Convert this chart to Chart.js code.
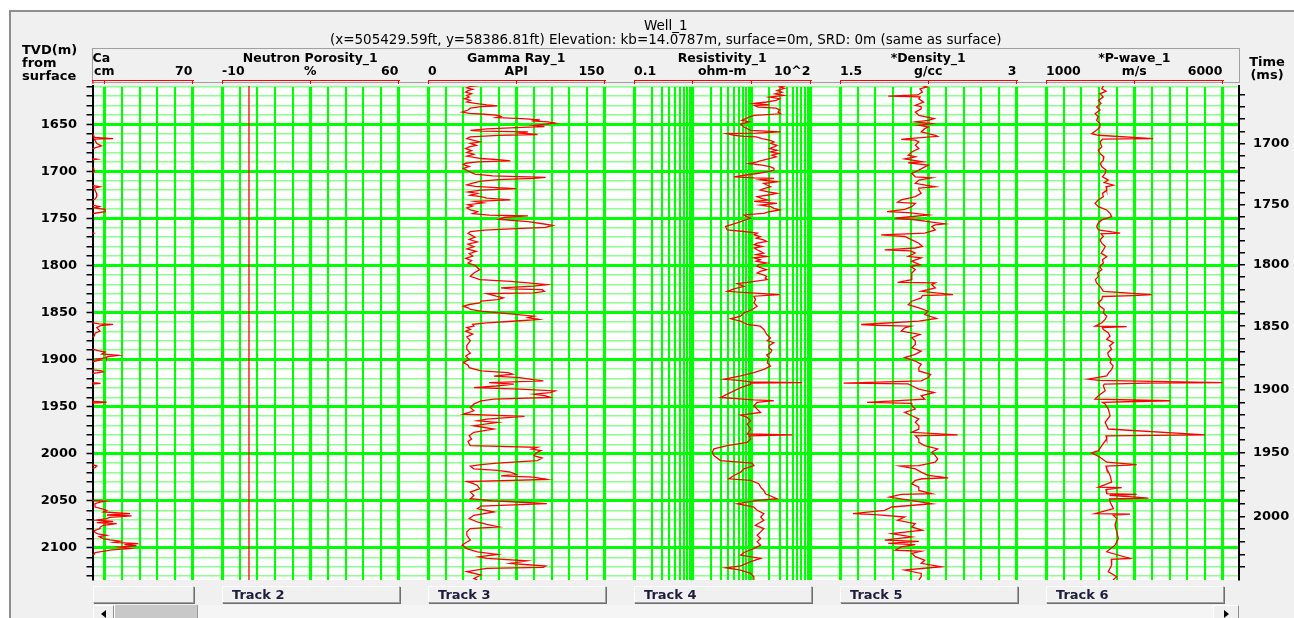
<!DOCTYPE html>
<html>
<head>
<meta charset="utf-8">
<title>Well_1</title>
<script src="https://cdn.jsdelivr.net/npm/chart.js@4.4.1/dist/chart.umd.min.js"></script>
<style>
  html, body { margin: 0; padding: 0; width: 1294px; height: 618px; overflow: hidden; background: #ffffff; }
  #frame { position: absolute; left: 9px; top: 10px; width: 1285px; height: 608px; box-sizing: border-box;
           background: #f0f0f0; border-left: 2px solid #8e8e8e; border-top: 2px solid #8e8e8e; }
  #plot { position: absolute; left: 0; top: 0; }
  .note { position: absolute; font: bold 13px 'DejaVu Sans', sans-serif; line-height: 12.8px; color: #000; white-space: pre; }
  .trackbtn { position: absolute; top: 586px; height: 17px; box-sizing: border-box; background: #f0f0f0;
              border-top: 1px solid #ffffff; border-left: 1px solid #ffffff; border-right: 1px solid #a0a0a0; border-bottom: 1px solid #a0a0a0;
              box-shadow: 1px 1px 0 #6e6e6e; font: bold 13px 'DejaVu Sans', sans-serif; line-height: 15px; color: #1e1e3c;
              padding-left: 9px; white-space: nowrap; overflow: hidden; }
  .sbar { position: absolute; top: 605px; height: 16px; box-sizing: border-box; }
  .sarrow { background: #f0f0f0; border-top: 1px solid #fff; border-left: 1px solid #fff; border-right: 1px solid #8e8e8e; border-bottom: 1px solid #8e8e8e; }
  .sarrow i { position: absolute; top: 4px; width: 0; height: 0; border-top: 4px solid transparent; border-bottom: 4px solid transparent; }
  .thumb { background: #c8c8c8; border-left: 1px solid #ffffff; border-right: 1px solid #9a9a9a; }
  .strack { background: #f5f5f5; }
</style>
</head>
<body>
<div id="frame"></div>
<canvas id="plot" width="1294" height="618"></canvas>
<div class="note" style="left:22px; top:44px;">TVD(m)
from
surface</div>
<div class="note" style="left:1244px; top:56px; width:46px; text-align:center;">Time
(ms)</div>

<script>
// ---------------- log curves: [depth (m TVD), value] ----------------
const caliper = [
  [1609.0,29.0],[1640.0,28.5],[1659.0,29.2],[1661.0,30.6],[1664.0,31.0],[1665.4,38.5],[1666.0,31.0],[1667.1,31.3],
  [1670.6,32.0],[1673.1,33.9],[1675.2,31.3],[1677.0,29.5],[1686.5,29.8],[1687.2,32.0],[1688.0,29.8],[1696.0,29.8],
  [1697.1,30.8],[1700.0,31.0],[1701.7,30.6],[1703.0,29.5],[1715.0,29.8],[1716.5,33.3],[1718.0,30.8],[1720.0,31.3],
  [1723.5,31.9],[1727.0,32.0],[1729.5,31.3],[1731.0,29.8],[1736.0,30.2],[1737.6,33.0],[1739.0,31.0],[1740.4,35.3],
  [1742.9,35.3],[1744.6,31.3],[1746.0,29.5],[1765.0,29.8],[1765.8,30.7],[1766.5,29.5],[1858.0,29.0],[1860.9,30.6],
  [1862.0,33.0],[1862.7,38.5],[1864.0,33.5],[1866.2,32.0],[1869.7,33.3],[1872.0,31.3],[1875.0,31.0],[1877.0,29.5],
  [1888.0,29.8],[1889.1,30.6],[1890.5,32.5],[1892.0,35.3],[1894.0,34.0],[1895.5,40.5],[1897.0,36.0],[1898.0,35.9],
  [1899.5,32.0],[1900.4,33.3],[1902.0,30.6],[1903.5,29.5],[1910.5,29.8],[1911.0,30.6],[1912.0,34.0],[1913.1,34.6],
  [1914.5,30.6],[1915.6,29.5],[1923.5,29.8],[1924.4,30.6],[1925.3,33.5],[1926.1,29.5],[1944.0,29.8],[1944.5,30.6],
  [1945.3,35.9],[1946.2,29.5],[2011.0,29.8],[2011.8,30.6],[2013.0,32.0],[2014.6,31.3],[2016.0,29.5],[2048.5,29.8],
  [2049.5,30.6],[2050.3,35.3],[2051.2,33.3],[2053.0,31.3],[2056.5,31.3],[2058.0,33.5],[2060.0,35.9],[2061.8,34.6],
  [2063.6,45.2],[2065.0,36.0],[2066.0,45.8],[2067.5,37.2],[2068.8,35.9],[2070.5,32.0],[2071.7,38.5],[2073.0,32.0],
  [2074.1,39.9],[2075.9,34.6],[2078.0,33.3],[2079.4,33.3],[2081.5,31.0],[2083.6,31.3],[2085.0,32.5],[2086.5,35.9],
  [2088.0,33.0],[2090.0,34.6],[2091.5,37.2],[2092.8,41.2],[2094.0,39.0],[2095.3,48.5],[2096.5,43.0],[2097.7,47.8],
  [2099.0,41.0],[2100.6,45.2],[2102.0,38.0],[2103.4,35.0],[2104.8,31.3],[2106.5,31.0],[2107.6,29.5],[2134.0,29.0]
];

const neutron = [[1609.0,0.7],[2135.0,0.7]];

const gammaRay = [
  [1609.0,43],[1610.0,36],[1611.5,33],[1613.0,38],[1614.5,34],[1616.0,32],[1617.8,37],[1619.5,33],[1621.3,35],[1623.0,31],
  [1624.8,36],[1626.5,33],[1628.0,40],[1629.5,50],[1630.5,59],[1631.5,45],[1633.0,36],[1635.0,34],[1637.2,29],[1638.5,35],
  [1639.5,48],[1640.7,60],[1641.8,62],[1643.0,58],[1644.2,80],[1645.5,95],[1646.5,88],[1647.5,102],[1648.8,108],[1649.9,100],
  [1651.3,90],[1652.5,99],[1653.5,80],[1655.0,50],[1656.6,36],[1657.5,45],[1658.3,85],[1659.5,78],[1661.0,93],[1662.0,60],
  [1663.6,36],[1665.4,33],[1667.0,38],[1668.9,44],[1670.5,36],[1672.5,41],[1674.2,35],[1676.0,32],[1678.0,37],[1680.0,33],
  [1682.0,39],[1684.0,33],[1686.5,45],[1688.0,62],[1689.0,70],[1690.0,42],[1691.5,32],[1693.0,30],[1695.0,35],[1697.0,30],
  [1699.0,33],[1701.0,36],[1703.0,40],[1705.0,55],[1706.5,100],[1707.5,90],[1709.0,60],[1710.5,45],[1712.5,38],[1714.5,33],
  [1716.0,40],[1717.5,58],[1718.5,75],[1720.0,45],[1722.0,34],[1723.5,42],[1725.5,36],[1727.0,45],[1728.5,50],[1730.5,70],
  [1732.0,40],[1733.5,47],[1735.5,34],[1737.0,38],[1739.0,33],[1741.0,36],[1743.0,42],[1745.0,38],[1746.5,52],[1747.5,85],
  [1749.0,65],[1751.0,60],[1753.5,85],[1755.5,96],[1757.5,106],[1759.5,100],[1761.0,75],[1762.5,48],[1764.0,36],[1766.0,34],
  [1770.0,40],[1772.5,35],[1775.0,42],[1777.5,34],[1780.0,39],[1782.5,33],[1785.0,41],[1787.5,35],[1790.0,38],[1792.5,32],
  [1795.0,37],[1797.5,34],[1800.0,40],[1804.5,44],[1808.1,39],[1811.6,36],[1815.1,44],[1816.9,70],[1818.5,85],[1820.4,101],
  [1822.0,90],[1823.9,62],[1825.0,70],[1825.7,97],[1827.5,99],[1829.2,90],[1830.0,50],[1832.7,58],[1834.5,64],[1836.3,59],
  [1838.0,45],[1839.8,44],[1841.5,35],[1843.3,30],[1845.0,34],[1846.8,36],[1848.5,45],[1850.4,60],[1851.5,70],[1853.9,90],
  [1855.5,85],[1857.4,94],[1859.0,75],[1860.9,50],[1862.5,38],[1864.5,39],[1866.0,33],[1868.0,36],[1870.0,32],[1873.0,38],
  [1876.0,33],[1880.0,36],[1885.0,33],[1889.1,33],[1893.0,36],[1896.2,32],[1900.0,35],[1903.2,30],[1906.0,34],[1908.5,35],
  [1912.0,45],[1913.8,68],[1915.5,72],[1917.5,56],[1919.1,78],[1920.9,88],[1922.6,98],[1924.4,52],[1926.1,73],[1928.0,58],
  [1929.7,39],[1931.4,78],[1933.2,108],[1935.0,104],[1936.7,90],[1938.5,100],[1940.2,104],[1942.0,56],[1943.8,45],[1947.3,39],
  [1950.8,36],[1954.3,39],[1957.9,30],[1960.3,82],[1963.1,50],[1965.0,42],[1966.7,59],[1970.2,39],[1973.7,56],[1977.2,39],
  [1980.8,35],[1984.3,37],[1987.0,34],[1989.6,35],[1991.3,36],[1993.1,93],[1995.0,88],[1996.6,96],[1999.0,92],[2001.9,90],
  [2004.5,97],[2007.2,93],[2010.0,59],[2011.5,45],[2013.2,36],[2016.0,39],[2017.5,59],[2019.5,70],[2022.0,75],[2023.5,62],
  [2024.8,90],[2027.3,101],[2029.4,33],[2031.5,38],[2033.6,42],[2037.1,44],[2040.7,36],[2044.2,39],[2047.7,36],[2050.0,55],
  [2051.2,76],[2053.0,101],[2055.5,45],[2058.3,42],[2061.8,56],[2065.3,39],[2068.8,35],[2072.4,42],[2075.0,50],[2077.7,60],
  [2079.4,36],[2082.9,33],[2086.5,33],[2091.7,36],[2094.5,32],[2097.0,29],[2100.6,33],[2104.1,42],[2106.9,59],[2109.4,43],
  [2111.1,50],[2113.6,84],[2116.4,70],[2119.2,100],[2120.5,98],[2121.7,50],[2125.2,33],[2128.7,45],[2132.3,39],[2134.0,42]
];

const resistivity = [
  [1609.0,38],[1610.5,30],[1612.0,36],[1614.3,27],[1616.0,33],[1617.8,25],[1619.5,35],[1621.3,20],[1623.0,30],[1624.8,26],
  [1626.5,18],[1628.0,11],[1629.5,20],[1630.1,11],[1631.9,13],[1633.0,26],[1635.0,30],[1637.2,28],[1639.0,31],[1640.7,11],
  [1642.5,9],[1644.2,7.9],[1646.0,6.8],[1647.5,9],[1649.9,6.5],[1653.0,7.4],[1656.6,9.6],[1658.3,31],[1659.5,12],[1660.1,3.8],
  [1661.8,5.0],[1663.0,7.5],[1663.6,12],[1665.4,15],[1667.0,20],[1668.9,24],[1670.5,21],[1672.5,27],[1674.2,24],[1676.0,20],
  [1677.7,27],[1679.5,21],[1681.2,29],[1683.0,22],[1684.7,26],[1686.5,20],[1689.0,14],[1690.0,12.4],[1691.8,9.0],[1693.5,15],
  [1695.3,21],[1697.0,24],[1698.8,24],[1700.5,19],[1702.4,12.4],[1704.0,8],[1705.9,5.0],[1707.0,11],[1707.6,24],[1709.0,14],
  [1711.2,27],[1713.0,16],[1716.5,21],[1718.5,16],[1720.0,14],[1722.0,19],[1723.5,27],[1725.5,18],[1727.0,12.4],[1729.0,15],
  [1730.6,19],[1732.0,11],[1734.1,27],[1736.0,14],[1737.6,21],[1739.5,24],[1741.1,30],[1743.0,20],[1744.7,16],[1746.4,7.4],
  [1748.0,8],[1749.9,9.6],[1751.5,8],[1753.5,6.5],[1755.0,5.5],[1757.0,4.4],[1758.7,3.6],[1760.5,3.7],[1762.3,3.85],[1764.0,7.4],
  [1765.8,12.4],[1767.5,11],[1769.3,14],[1771.0,12],[1772.8,16],[1774.5,18],[1776.4,12.4],[1778.0,11],[1779.9,15],[1781.5,11],
  [1783.4,12.4],[1785.0,14],[1787.0,16],[1788.5,12],[1790.5,18],[1792.0,11],[1794.0,14],[1795.5,12],[1797.5,18],[1799.0,13],
  [1801.0,12.4],[1802.8,15],[1804.5,18],[1806.3,14],[1808.1,12.4],[1809.9,16],[1811.6,18],[1813.4,17],[1815.1,18.4],[1817.9,8.4],
  [1819.3,5.7],[1822.2,7.4],[1825.0,5.0],[1827.5,3.85],[1829.2,9.6],[1830.9,30],[1832.7,10.9],[1836.3,11.6],[1839.8,10.9],[1843.3,12.4],
  [1846.8,10.3],[1850.4,7.4],[1853.9,6.5],[1856.7,4.4],[1859.2,6.5],[1862.7,8.4],[1864.5,14],[1868.0,16.1],[1873.3,18],[1877.1,20.9],
  [1880.0,18.4],[1882.1,23.8],[1885.0,20],[1887.4,19.6],[1890.0,22],[1892.7,20.9],[1895.0,18],[1898.0,19.6],[1903.2,18.4],[1906.8,20.9],
  [1910.3,16.1],[1913.8,10.9],[1917.3,6.5],[1920.9,3.4],[1922.0,6],[1923.7,9.6],[1924.4,72],[1925.0,9.6],[1926.1,9.6],[1929.7,6.5],
  [1933.2,5.0],[1936.7,3.85],[1940.2,2.96],[1942.7,10.9],[1943.5,23.8],[1945.5,12.4],[1949.0,10.9],[1952.6,12.4],[1956.1,14.2],[1958.9,6.5],
  [1961.4,8.4],[1964.9,9.6],[1968.4,8.4],[1973.7,9.6],[1979.0,8.4],[1980.0,48.8],[1981.0,9],[1984.3,9.6],[1987.8,8.4],[1991.3,3.85],
  [1994.8,2.28],[1998.4,2.14],[2001.9,2.28],[2007.2,2.96],[2010.0,10.2],[2012.5,10.9],[2016.0,7.4],[2019.5,6.5],[2023.0,5.0],[2026.6,4.1],
  [2028.3,9.6],[2031.8,13.2],[2035.4,14.2],[2038.9,16.1],[2042.4,17.2],[2047.7,27.1],[2049.5,12.4],[2053.0,5.7],[2056.5,10.9],[2060.0,12.4],
  [2063.6,16.1],[2067.1,14.2],[2070.6,16.1],[2075.9,11.5],[2079.4,16.1],[2082.9,14.2],[2086.5,12.4],[2090.0,14.2],[2093.5,12.4],[2097.0,14.2],
  [2100.6,10.9],[2104.8,7.4],[2107.6,6.5],[2111.1,14.2],[2114.6,9.6],[2118.9,6.5],[2121.0,3.6],[2123.5,6.5],[2127.0,9.6],[2130.5,10.9],
  [2134.0,10.9]
];

const density = [
  [1609.0,2.20],[1610.5,2.24],[1612.5,2.18],[1616.0,2.20],[1619.0,2.16],[1620.2,1.91],[1621.0,2.18],[1623.1,2.17],[1626.6,2.21],[1630.1,2.14],
  [1631.5,2.19],[1633.7,2.19],[1637.2,2.14],[1640.7,2.17],[1644.2,2.30],[1646.0,2.25],[1647.7,2.14],[1649.5,2.28],[1651.3,2.17],[1653.0,2.25],
  [1654.8,2.22],[1658.3,2.19],[1661.8,2.31],[1663.0,2.33],[1665.4,2.08],[1666.1,2.02],[1667.0,2.14],[1668.9,2.17],[1672.4,2.14],[1675.9,2.17],
  [1679.5,2.11],[1683.0,2.08],[1684.7,2.14],[1687.0,2.05],[1690.0,2.20],[1691.0,2.08],[1693.5,2.25],[1698.8,2.17],[1702.4,2.11],[1705.9,2.14],
  [1707.0,2.28],[1709.4,2.17],[1712.9,2.14],[1716.5,2.31],[1718.0,2.17],[1720.0,2.17],[1723.5,2.19],[1727.0,2.14],[1730.5,2.02],[1733.0,1.99],
  [1734.1,2.14],[1737.6,2.11],[1740.5,2.05],[1742.9,1.90],[1744.0,2.08],[1746.4,2.25],[1749.9,1.97],[1751.5,2.14],[1753.5,2.25],[1755.9,2.39],
  [1757.0,2.31],[1758.7,2.28],[1762.3,2.31],[1765.8,2.22],[1767.5,1.85],[1769.3,2.05],[1772.8,2.11],[1776.4,2.17],[1779.9,2.20],[1781.5,2.14],
  [1783.4,1.88],[1784.5,2.10],[1786.9,2.14],[1790.5,2.08],[1792.0,2.19],[1795.7,2.11],[1799.3,2.18],[1801.0,2.10],[1804.5,2.14],[1808.1,2.11],
  [1811.6,2.11],[1815.1,2.11],[1817.9,1.99],[1818.5,2.31],[1820.4,2.28],[1823.9,2.31],[1827.5,2.19],[1831.0,2.46],[1832.0,2.20],[1834.5,2.19],
  [1838.0,2.11],[1841.6,2.08],[1845.1,2.17],[1848.6,2.25],[1852.1,2.22],[1856.3,2.32],[1859.2,2.17],[1862.7,1.68],[1863.5,1.80],[1864.5,2.10],
  [1866.2,2.05],[1869.7,2.02],[1873.3,2.18],[1876.8,2.11],[1880.3,2.14],[1883.8,2.14],[1887.4,2.11],[1890.9,2.19],[1894.4,2.14],[1897.9,2.05],
  [1901.5,2.14],[1905.0,2.19],[1908.5,2.17],[1912.0,2.17],[1915.6,2.27],[1919.1,2.25],[1922.6,2.19],[1925.0,1.53],[1925.8,2.08],[1927.8,2.11],
  [1931.4,2.17],[1934.9,2.30],[1938.4,2.19],[1941.9,2.22],[1945.5,1.73],[1946.5,2.11],[1949.0,2.11],[1952.5,2.14],[1956.1,2.05],[1959.6,2.11],
  [1963.1,2.17],[1966.6,2.14],[1970.2,2.17],[1973.7,2.17],[1977.2,2.11],[1980.0,2.50],[1981.0,2.14],[1984.3,2.17],[1987.8,2.17],[1991.3,2.22],
  [1994.8,2.33],[1998.4,2.28],[2001.9,2.31],[2005.4,2.33],[2008.9,2.31],[2012.5,2.17],[2013.0,2.01],[2016.0,2.14],[2019.5,2.19],[2023.0,2.25],
  [2025.5,2.42],[2026.5,2.20],[2028.3,2.14],[2031.8,2.11],[2035.4,2.17],[2038.9,2.17],[2042.4,2.28],[2043.0,2.02],[2045.9,1.92],[2049.5,2.10],
  [2053.0,2.28],[2056.5,1.94],[2060.0,1.88],[2063.5,1.61],[2064.5,1.80],[2067.1,2.05],[2070.6,1.99],[2074.1,2.14],[2077.6,2.11],[2081.2,2.20],
  [2084.7,1.94],[2088.2,2.11],[2091.7,1.88],[2093.0,2.17],[2095.2,1.91],[2096.5,2.14],[2098.8,2.02],[2102.3,1.97],[2103.5,2.19],[2105.8,2.11],
  [2109.3,2.14],[2112.9,2.22],[2116.4,2.19],[2119.9,2.36],[2123.4,2.05],[2127.0,2.19],[2130.5,2.19],[2134.0,2.17]
];

const pWave = [
  [1609.0,2630],[1612.5,2580],[1615.0,2700],[1617.8,2530],[1621.0,2620],[1624.8,2485],[1628.0,2560],[1631.9,2435],[1635.0,2530],[1638.9,2390],
  [1642.0,2480],[1646.0,2435],[1649.0,2520],[1653.0,2530],[1656.0,2450],[1660.1,2295],[1661.8,2485],[1665.4,4040],[1666.0,2600],[1668.9,2530],
  [1674.2,2580],[1677.7,2480],[1681.2,2530],[1684.7,2640],[1688.3,2625],[1691.8,2540],[1695.3,2580],[1698.8,2700],[1702.4,2675],[1705.9,2600],
  [1709.4,2765],[1712.0,2650],[1714.7,2910],[1716.5,2700],[1720.0,2720],[1723.5,2600],[1727.0,2625],[1730.5,2480],[1734.1,2390],[1737.6,2485],
  [1741.1,2720],[1744.7,2815],[1748.2,2860],[1751.7,2580],[1755.2,2480],[1758.7,2435],[1762.3,2485],[1765.8,3100],[1766.5,2560],[1769.3,2625],
  [1772.8,2530],[1776.4,2580],[1779.9,2680],[1783.4,2625],[1787.0,2560],[1790.5,2720],[1794.0,2600],[1797.5,2625],[1801.0,2520],[1804.5,2580],
  [1808.1,2460],[1811.6,2485],[1815.1,2400],[1818.6,2435],[1822.2,2530],[1827.5,2625],[1831.0,4000],[1832.0,3475],[1833.0,2600],[1836.3,2580],
  [1839.8,2470],[1843.3,2530],[1846.8,2650],[1850.4,2625],[1853.9,2720],[1857.4,2675],[1860.9,2580],[1864.5,2390],[1865.0,3285],[1866.0,2600],
  [1868.0,2625],[1871.5,2760],[1875.0,2815],[1878.5,2720],[1882.0,2910],[1885.5,2800],[1889.1,2860],[1892.6,2750],[1896.2,2765],[1899.7,2850],
  [1903.2,2815],[1906.7,2900],[1910.3,2860],[1913.8,2780],[1917.3,2720],[1920.8,2200],[1922.0,2500],[1924.4,6030],[1925.0,3900],[1926.0,2650],
  [1927.8,2625],[1933.0,2675],[1938.4,2485],[1941.9,2390],[1943.7,4515],[1944.5,3570],[1945.5,2600],[1947.2,2675],[1952.5,2765],[1959.6,2815],
  [1966.6,2675],[1973.7,2765],[1980.0,5510],[1981.0,2700],[1984.3,2720],[1991.3,2580],[1996.6,2485],[1999.0,2295],[2003.6,2530],[2008.9,2720],
  [2011.4,3570],[2012.0,3335],[2013.0,2700],[2016.0,2720],[2023.0,2815],[2030.1,2860],[2035.4,2485],[2036.0,3145],[2038.0,2700],[2042.4,2720],
  [2043.0,3570],[2044.0,2800],[2047.0,3900],[2048.0,2800],[2051.2,2815],[2058.3,2910],[2063.5,2390],[2064.0,3380],[2065.0,2900],[2068.8,3005],
  [2075.9,2955],[2082.9,3005],[2090.0,3050],[2097.0,2955],[2104.1,2720],[2111.1,3380],[2112.0,2850],[2118.2,2860],[2125.2,2765],[2130.5,3005],
  [2134.0,2900]
];

// ---------------- time-depth pairs for the right-hand axis ----------------
const timeMarks = [1700, 1750, 1800, 1850, 1900, 1950, 2000];          // ms
const timeMarkDepths = [1670.6, 1735.8, 1799.2, 1864.5, 1932.1, 1999.0, 2066.4]; // m

// depth window shown
const depthTop = 1609.5;
const depthBase = 2134;

// ---------------- styling ----------------
const GREEN = '#00ff00';
const RED = '#ff0000';
const CLEAR = 'rgba(0,0,0,0)';
const hdrFont = { family: 'DejaVu Sans', size: 12.5, weight: 'bold', lineHeight: 1.2 };
const axisFont = { family: 'DejaVu Sans', size: 13, weight: 'bold', lineHeight: 1.2 };
const titleFont = { family: 'DejaVu Sans', size: 13.5, weight: 'normal', lineHeight: 1 };

function steps(from, to, n) {
  const out = [];
  for (let i = 0; i <= n; i++) out.push(+(from + (to - from) * i / n).toFixed(6));
  return out;
}
function logGrid(lo, hi) {
  const out = [];
  for (let dec = lo; dec < hi - 1e-9; dec *= 10) {
    for (let k = 1; k <= 9; k++) out.push(+(dec * k).toPrecision(6));
  }
  out.push(hi);
  return out;
}

// track layout: the first track is scrolled, so only its right part is visible
const tracks = [
  { id: 'ca', title: 'Ca', titleAlign: 'start', type: 'linear', min: 30.3, max: 70, width: 100,
    grid: [35, 42, 49, 56, 63, 70], heavy: [35, 70],
    marks: [[30.3, '', true], [35, 'cm', true], [70, '70', true]], data: caliper },
  { id: 'nphi', title: 'Neutron Porosity_1', type: 'linear', min: -10, max: 60, width: 176.5,
    grid: steps(-10, 60, 10), heavy: [-10, 25, 60],
    marks: [[-10, '-10', true], [25, '%', true], [60, '60', true]], data: neutron },
  { id: 'gr', title: 'Gamma Ray_1', type: 'linear', min: 0, max: 150, width: 176.5,
    grid: steps(0, 150, 10), heavy: [0, 75, 150],
    marks: [[0, '0', true], [75, 'API', true], [150, '150', true]], data: gammaRay },
  { id: 'res', title: 'Resistivity_1', type: 'logarithmic', min: 0.1, max: 100, width: 176.5,
    grid: logGrid(0.1, 100), heavy: [0.1, 1, 10, 100],
    marks: [[0.1, '0.1', true], [1, '', true], [Math.sqrt(10), 'ohm-m', false], [10, '', true], [100, '10^2', true]], data: resistivity },
  { id: 'rhob', title: '*Density_1', type: 'linear', min: 1.5, max: 3, width: 176.5,
    grid: steps(1.5, 3, 10), heavy: [1.5, 2.25, 3],
    marks: [[1.5, '1.5', true], [2.25, 'g/cc', true], [3, '3', true]], data: density },
  { id: 'vp', title: '*P-wave_1', type: 'linear', min: 1000, max: 6000, width: 176.5,
    grid: steps(1000, 6000, 10), heavy: [1000, 3500, 6000],
    marks: [[1000, '1000', true], [3500, 'm/s', true], [6000, '6000', true]], data: pWave }
];
const gapWidth = 29.5;
const endGapWidth = 16.5;
const headerHeight = 30;

function trackTicks(t) {
  const map = new Map();
  const key = v => v.toFixed(6);
  t.grid.forEach(v => map.set(key(v), { value: v, line: true, heavy: t.heavy.some(h => Math.abs(h - v) < 1e-9), leg: false, text: '' }));
  t.marks.forEach(([v, text, leg]) => {
    const k = key(v);
    const tk = map.get(k) || { value: v, line: false, heavy: false, leg: false, text: '' };
    tk.text = text; tk.leg = leg;
    map.set(k, tk);
  });
  // the scrolled-off left edge of the first track carries no grid line
  if (t.id === 'ca') { const e = map.get(key(t.min)); if (e) e.line = false; }
  return [...map.values()].sort((a, b) => a.value - b.value);
}

function trackAxis(t, order) {
  const ticks = trackTicks(t);
  return {
    type: t.type, position: 'top', stack: 'tracks', stackWeight: t.width, weight: order,
    min: t.min, max: t.max,
    afterBuildTicks: s => { s.ticks = ticks.map(k => Object.assign({}, k)); },
    afterFit: s => { s.height = headerHeight; },
    grid: {
      color: c => (c.tick && c.tick.line) ? GREEN : CLEAR,
      lineWidth: c => (c.tick && c.tick.heavy) ? 3 : 2,
      tickColor: c => (c.tick && c.tick.leg) ? RED : CLEAR,
      tickLength: -4,
      tickWidth: 1
    },
    border: { display: true, color: RED, width: 1 },
    ticks: {
      autoSkip: false, maxRotation: 0, minRotation: 0, align: 'inner', padding: 4.8,
      color: '#000', font: hdrFont,
      callback: (v, i, arr) => (arr[i] && arr[i].text) || ''
    },
    title: { display: true, text: t.title, align: t.titleAlign || 'center', color: '#000', font: hdrFont, padding: { top: 1.5, bottom: 0 } }
  };
}

function gapAxis(w, order) {
  return {
    type: 'linear', position: 'top', stack: 'tracks', stackWeight: w, weight: order,
    grid: { display: false }, ticks: { display: false }, border: { display: false }
  };
}

// two-way time ticks every 10 ms, placed along the time-depth pairs
const twtTicks = (() => {
  const out = [];
  const n = timeMarks.length;
  for (let t = timeMarks[0] - 50; t <= timeMarks[n - 1] + 50; t += 10) {
    let i = 0;
    while (i < n - 2 && t > timeMarks[i + 1]) i++;
    const f = (t - timeMarks[i]) / (timeMarks[i + 1] - timeMarks[i]);
    const d = timeMarkDepths[i] + f * (timeMarkDepths[i + 1] - timeMarkDepths[i]);
    if (d >= depthTop && d <= depthBase - 0.5) out.push({ value: +d.toFixed(4), text: t % 50 === 0 ? String(t) : '' });
  }
  return out;
})();
const twtLabel = new Map(twtTicks.map(k => [k.value.toFixed(4), k.text]));

// ---------------- scales ----------------
const scales = {
  depth: {
    type: 'linear', position: 'left', reverse: true, min: depthTop, max: depthBase,
    afterFit: s => { s.width = 92.5; },
    afterBuildTicks: s => {
      const list = [];
      for (let v = Math.ceil(depthTop / 10) * 10; v <= depthBase; v += 10) list.push({ value: v });
      s.ticks = list;
    },
    ticks: {
      autoSkip: false, padding: 9.5, color: '#000', font: axisFont,
      callback: v => (Math.round(v) % 50 === 0 ? String(Math.round(v)) : '')
    },
    grid: {
      color: c => (c.tick && Math.round(c.tick.value) % 50 === 0) ? GREEN : '#8cff8c',
      lineWidth: c => (c.tick && Math.round(c.tick.value) % 50 === 0) ? 3 : 1.5,
      tickColor: '#000', tickWidth: 1.5, tickLength: 6
    },
    border: { color: '#000', width: 2 }
  },
  twt: {
    type: 'linear', position: 'right', reverse: true, min: depthTop, max: depthBase,
    afterFit: s => { s.width = 55; },
    afterBuildTicks: s => { s.ticks = twtTicks.map(k => ({ value: k.value })); },
    ticks: {
      autoSkip: false, padding: 8, color: '#000', font: axisFont,
      callback: v => twtLabel.get((+v).toFixed(4)) || ''
    },
    grid: { drawOnChartArea: false, color: '#000', lineWidth: 1.5, tickLength: 6 },
    border: { color: '#000', width: 2 }
  },
  spacer: {
    type: 'linear', position: 'top', weight: 0,
    grid: { display: false }, ticks: { display: false }, border: { display: false },
    afterFit: s => { s.height = 6; }
  }
};
let order = 100;
tracks.forEach((t, i) => {
  scales[t.id] = trackAxis(t, order--);
  scales['gap' + i] = gapAxis(i < tracks.length - 1 ? gapWidth : endGapWidth, order--);
});

// white plot area and the header panel outline
const panel = {
  id: 'panel',
  beforeDraw(chart) {
    const { ctx, chartArea: a } = chart;
    const hdr = chart.scales.gr;
    ctx.save();
    ctx.fillStyle = '#ffffff';
    ctx.fillRect(a.left, a.top, a.right - a.left, a.bottom - a.top);
    ctx.strokeStyle = '#a0a0a0';
    ctx.lineWidth = 1;
    ctx.strokeRect(Math.round(a.left) - 0.5, Math.round(hdr.top) - 1.5, Math.round(a.right - a.left), Math.round(hdr.bottom - hdr.top) + 4);
    ctx.restore();
  }
};

const chart = new Chart(document.getElementById('plot'), {
  type: 'scatter',
  data: {
    datasets: tracks.map(t => ({
      label: t.title,
      data: t.data.map(([d, v]) => ({ x: v, y: d })),
      xAxisID: t.id, yAxisID: 'depth',
      showLine: true, borderColor: RED, backgroundColor: RED, borderWidth: 1.3,
      pointRadius: 0, pointHoverRadius: 0, fill: false, tension: 0
    }))
  },
  options: {
    responsive: false, devicePixelRatio: 1, animation: false, events: [],
    layout: { padding: { top: 10, left: 0, right: 0, bottom: 38 } },
    plugins: {
      legend: { display: false },
      tooltip: { enabled: false },
      title: { display: true, text: 'Well_1', fullSize: false, color: '#000', font: titleFont, padding: { top: 10, bottom: 0 } },
      subtitle: { display: true, text: '(x=505429.59ft, y=58386.81ft) Elevation: kb=14.0787m, surface=0m, SRD: 0m (same as surface)',
                  fullSize: false, color: '#000', font: titleFont, padding: { top: 0, bottom: 3 } }
    },
    scales
  },
  plugins: [panel]
});

// track buttons and the horizontal scroll bar under the tracks
const buttonNames = { ca: '', nphi: 'Track 2', gr: 'Track 3', res: 'Track 4', rhob: 'Track 5', vp: 'Track 6' };
Object.keys(buttonNames).forEach(id => {
  const s = chart.scales[id];
  const b = document.createElement('div');
  b.className = 'trackbtn';
  b.style.left = Math.round(s.left) + 'px';
  b.style.width = Math.round(s.right - s.left + 1) + 'px';
  b.textContent = buttonNames[id];
  document.body.appendChild(b);
});
(function scrollBar() {
  const a = chart.chartArea;
  const left = Math.round(a.left);
  const right = Math.round(a.right);
  const mk = (cls, x, w) => { const d = document.createElement('div'); d.className = 'sbar ' + cls; d.style.left = x + 'px'; d.style.width = w + 'px'; document.body.appendChild(d); return d; };
  mk('strack', left, right - left);
  const la = mk('sarrow', left, 21);
  const li = document.createElement('i'); li.style.left = '7px'; li.style.borderRight = '5px solid #000'; la.appendChild(li);
  mk('thumb', left + 21, 84);
  const ra = mk('sarrow', right - 26, 26);
  const ri = document.createElement('i'); ri.style.left = '10px'; ri.style.borderLeft = '5px solid #000'; ra.appendChild(ri);
})();
</script>
</body>
</html>
